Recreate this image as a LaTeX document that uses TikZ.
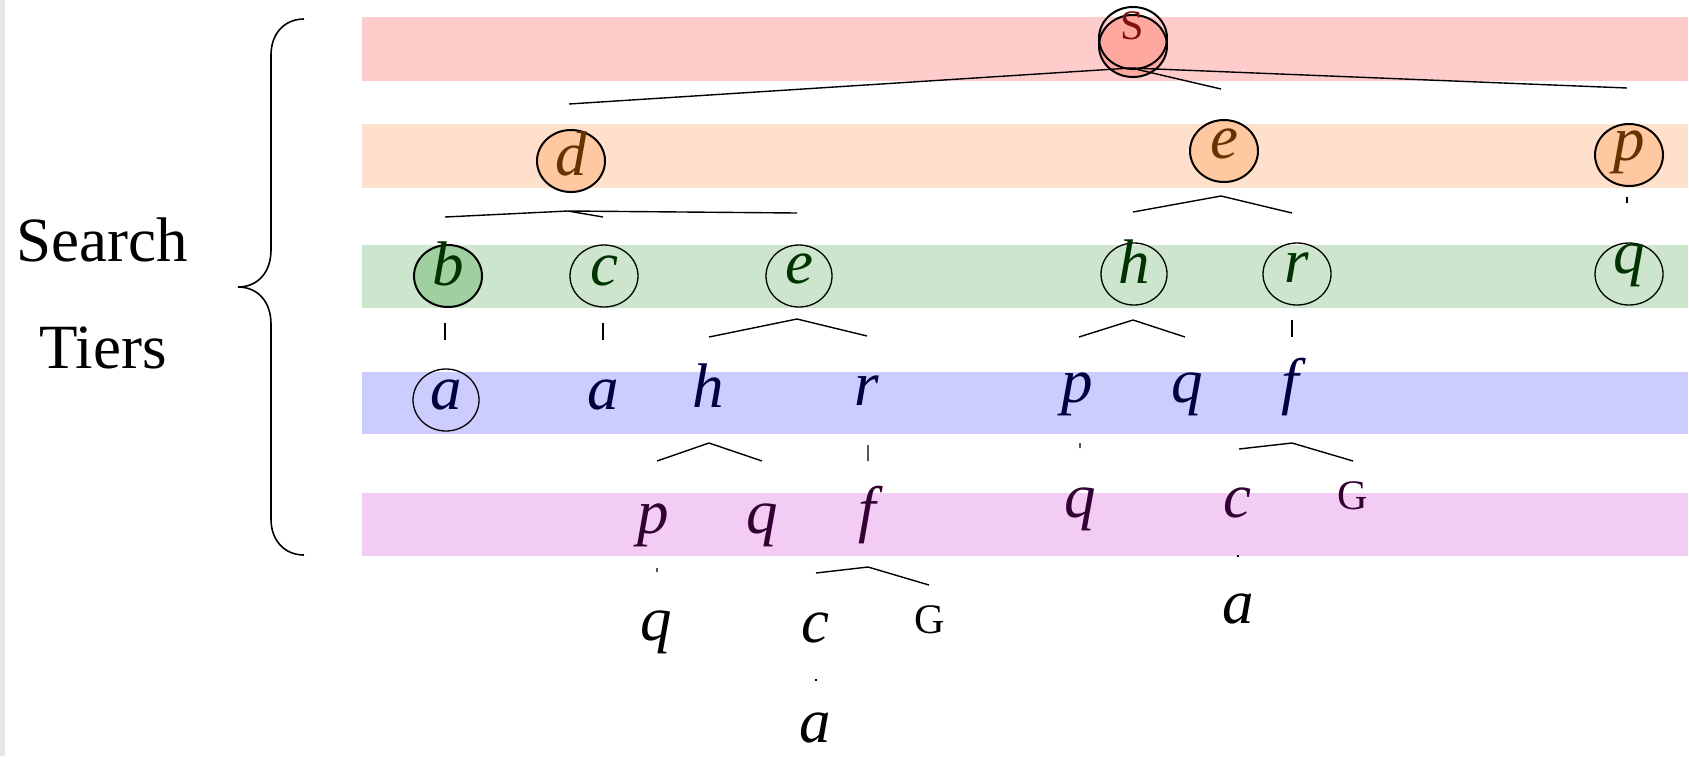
\documentclass[tikz,border=0pt]{standalone}
\usepackage{fontspec}
\setmainfont{Liberation Serif}
\usetikzlibrary{shapes.geometric}
\definecolor{redband}{HTML}{FFCCCC}
\definecolor{orangeband}{HTML}{FFE0CC}
\definecolor{greenband}{HTML}{CCE5CC}
\definecolor{blueband}{HTML}{CCCCFF}
\definecolor{pinkband}{HTML}{F2CCF2}
\definecolor{rootfill}{HTML}{FFA8A0}
\definecolor{orangefill}{HTML}{FFC8A0}
\definecolor{greenfill}{HTML}{A0D0A0}
\definecolor{redtext}{HTML}{801010}
\definecolor{orangetext}{HTML}{663300}
\definecolor{greentext}{HTML}{003300}
\definecolor{bluetext}{HTML}{000040}
\definecolor{pinktext}{HTML}{330033}
\definecolor{sidebar}{HTML}{E6E6E6}

\begin{document}
\begin{tikzpicture}[x=0.5pt,y=-0.5pt,
    ring/.style={ellipse,draw,line width=0.65pt,minimum width=32pt,minimum height=31pt,inner sep=0pt},
    boldring/.style={ring,line width=1pt},
    letter/.style={font=\fontsize{31.5}{36}\selectfont\itshape,inner sep=0pt,anchor=base},
    smallletter/.style={font=\fontsize{21}{24}\selectfont,inner sep=0pt,anchor=base},
    bigword/.style={font=\fontsize{31.5}{36}\selectfont,inner sep=0pt,anchor=base},
    treeline/.style={line width=0.7pt}]
    \useasboundingbox (0,0) rectangle (1689,756);
    \fill[sidebar] (0,0) rectangle (5,756);
    \fill[redband] (362,17) rectangle (1688,81);
    \fill[orangeband] (362,124) rectangle (1688,188);
    \fill[greenband] (362,245) rectangle (1688,308);
    \fill[blueband] (362,372) rectangle (1688,434);
    \fill[pinkband] (362,493) rectangle (1688,556);
    \draw[line width=0.8pt] (304,19) .. controls (285,19) and (271,33) .. (271,55) -- (271,250)
        .. controls (271,272) and (258,287) .. (238,287) .. controls (258,287) and (271,302) .. (271,324)
        -- (271,519) .. controls (271,541) and (285,555) .. (304,555);
    \node[bigword] (search) at (102,261) {Search};
    \node[bigword] (tiers) at (103,368) {Tiers};
    % root tier
    \node[boldring,fill=rootfill,minimum width=34pt] (s) at (1133,46) {};
    \node[boldring,minimum width=34pt] (s') at (1133,38) {};
    \node[smallletter,text=redtext] (stext) at (1132,39) {S};
    % second tier
    \node[boldring,fill=orangefill,minimum width=34pt] (dring) at (571,161) {};
    \node[letter,text=orangetext] (d) at (571,175) {d};
    \node[boldring,fill=orangefill,minimum width=34pt] (ering) at (1224,151) {};
    \node[letter,text=orangetext] (e) at (1224,158) {e};
    \node[boldring,fill=orangefill,minimum width=34pt] (pring) at (1629,155) {};
    \node[letter,text=orangetext] (p) at (1629,160) {p};
    % third tier
    \node[boldring,fill=greenfill,minimum width=34pt] (bring) at (448,276) {};
    \node[letter,text=greentext] (b) at (448,285) {b};
    \node[ring,minimum width=34pt] (cring) at (604,276) {};
    \node[letter,text=greentext] (c) at (604,285) {c};
    \node[ring,minimum width=33pt] (e2ring) at (799,276) {};
    \node[letter,text=greentext] (e2) at (799,283) {e};
    \node[ring,minimum width=33pt] (h2ring) at (1134,274) {};
    \node[letter,text=greentext] (h2) at (1134,283) {h};
    \node[ring,minimum width=34pt] (r2ring) at (1297,274) {};
    \node[letter,text=greentext] (r2) at (1297,282) {r};
    \node[ring,minimum width=34pt] (q2ring) at (1629,274) {};
    \node[letter,text=greentext] (q2) at (1629,273) {q};
    % fourth tier
    \node[ring,minimum width=33pt] (a3ring) at (446,400) {};
    \node[letter,text=bluetext] (a3) at (446,409) {a};
    \node[letter,text=bluetext] (a3b) at (603,409) {a};
    \node[letter,text=bluetext] (h3) at (708,407) {h};
    \node[letter,text=bluetext] (r3) at (867,405) {r};
    \node[letter,text=bluetext] (p3) at (1077,402) {p};
    \node[letter,text=bluetext] (q3) at (1187,402) {q};
    \node[letter,text=bluetext] (f3) at (1290,402) {f};
    % fifth tier
    \node[letter,text=pinktext] (p4) at (653,533) {p};
    \node[letter,text=pinktext] (q4) at (762,533) {q};
    \node[letter,text=pinktext] (f4) at (867,530) {f};
    \node[letter,text=pinktext] (q4b) at (1080,517) {q};
    \node[letter,text=pinktext] (c4) at (1237,517) {c};
    \node[smallletter,text=pinktext] (G4) at (1353,509) {G};
    % below the tiers
    \node[letter] (q5) at (656,640) {q};
    \node[letter] (c5) at (815,642) {c};
    \node[smallletter] (G5) at (930,633) {G};
    \node[letter] (a5) at (1238,623) {a};
    \node[letter] (a6) at (815,742) {a};
    % branch points
    \path (1131,68) coordinate (s0) (569,104) coordinate (sd) (1221,89) coordinate (se) (1627,88) coordinate (sp);
    \path (568,211) coordinate (d0) (445,217) coordinate (db) (603,217) coordinate (dc) (797,213) coordinate (de);
    \path (1221,196) coordinate (e0) (1133,212) coordinate (eh) (1292,213) coordinate (er);
    \path (1627,197) coordinate (p0) (1627,203) coordinate (pq);
    \path (445,323) coordinate (b0) (445,340) coordinate (ba) (603,323) coordinate (c0) (603,340) coordinate (ca);
    \path (797,319) coordinate (e20) (709,337) coordinate (e2h) (867,336) coordinate (e2r);
    \path (1133,320) coordinate (h20) (1079,337) coordinate (h2p) (1185,337) coordinate (h2q);
    \path (1292,320) coordinate (r20) (1292,337) coordinate (r2f);
    \path (709,443) coordinate (h30) (657,461) coordinate (h3p) (762,461) coordinate (h3q);
    \path (868,445) coordinate (r30) (868,461) coordinate (r3f);
    \path (1080,443) coordinate (p30) (1080,448) coordinate (p3q);
    \path (1292,443) coordinate (f30) (1239,449) coordinate (f3c) (1353,461) coordinate (f3G);
    \path (657,568) coordinate (p40) (657,572) coordinate (p4q);
    \path (868,567) coordinate (f40) (816,573) coordinate (f4c) (929,585) coordinate (f4G);
    \path (1238,555) coordinate (c40) (1238,557) coordinate (c4a);
    \path (816,679) coordinate (c50) (816,681) coordinate (c5a);
    \draw[treeline] (sd) -- (s0) -- (se) (s0) -- (sp);
    \draw[treeline] (db) -- (d0) -- (dc) (d0) -- (de);
    \draw[treeline] (eh) -- (e0) -- (er);
    \draw[treeline] (p0) -- (pq) (b0) -- (ba) (c0) -- (ca) (r20) -- (r2f);
    \draw[treeline] (e2h) -- (e20) -- (e2r) (h2p) -- (h20) -- (h2q);
    \draw[treeline] (h3p) -- (h30) -- (h3q) (r30) -- (r3f) (p30) -- (p3q);
    \draw[treeline] (f3c) -- (f30) -- (f3G);
    \draw[treeline] (p40) -- (p4q) (f4c) -- (f40) -- (f4G);
    \draw[treeline] (c40) -- (c4a) (c50) -- (c5a);
\end{tikzpicture}
\end{document}
